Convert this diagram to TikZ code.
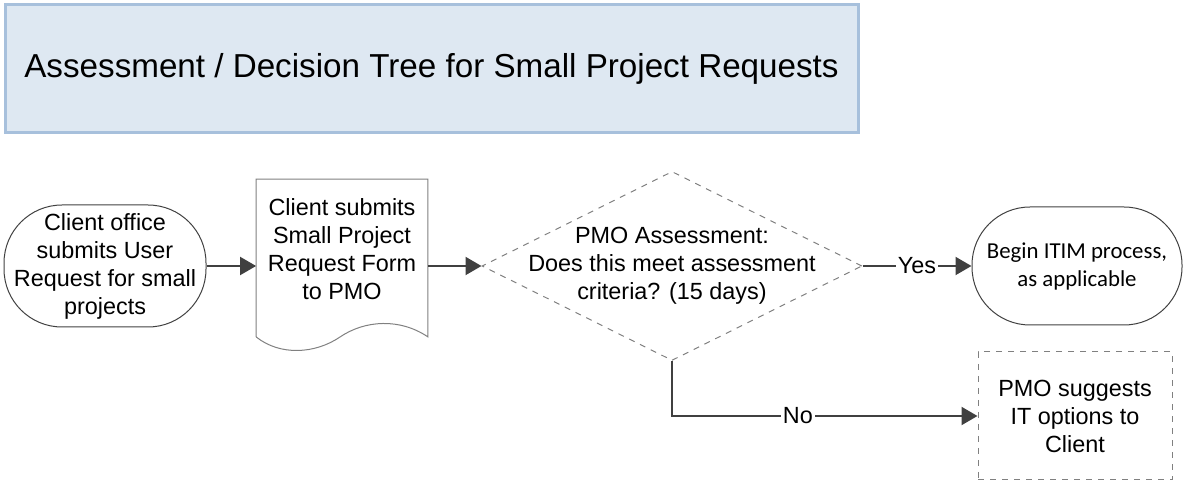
\documentclass[tikz,border=0pt]{standalone}
\usepackage{fontspec}
\setmainfont{Liberation Sans}
\newfontfamily\calibrifont{Carlito}
\usepackage{tikz}
\usetikzlibrary{shapes.geometric,arrows.meta}
\definecolor{titlefill}{HTML}{DEE8F2}
\definecolor{titleline}{HTML}{A7C0DC}
\definecolor{linegray}{HTML}{404040}
\definecolor{dashgray}{HTML}{808080}
\tikzstyle{titlebox} = [draw=titleline, fill=titlefill, line width=1.5pt,
    rectangle, minimum width=426.5pt, minimum height=64pt,
    font=\fontsize{16.6}{20}\selectfont]
\tikzstyle{terminal} = [draw=linegray, line width=0.5pt, rectangle,
    rounded corners=29pt, align=center, inner sep=0pt]
\tikzstyle{decision} = [draw=dashgray, dashed, line width=0.5pt, diamond,
    minimum width=190pt, minimum height=94.5pt, inner sep=0pt]
\tikzstyle{process} = [draw=dashgray, dashed, line width=0.5pt, rectangle,
    minimum width=97pt, minimum height=64pt, align=center]
\tikzstyle{txt} = [align=center, font=\fontsize{11.7}{14}\selectfont]
\tikzstyle{arr} = [draw=linegray, line width=1pt,
    -{Triangle[length=8pt,width=9pt]}]
\tikzstyle{lbl} = [fill=white, inner sep=1pt, font=\fontsize{11.7}{14}\selectfont]

\begin{document}
\begin{tikzpicture}[x=0.5pt, y=-0.5pt]
\useasboundingbox (0,0) rectangle (1188,485);
% title
\node[titlebox] (title) at (431.5,69) {Assessment / Decision Tree for Small Project Requests};
% flow
\node[terminal, txt, minimum width=101pt, minimum height=61pt] (start) at (105,266)
    {Client office\\submits User\\Request for small\\projects};
\node[minimum width=85.5pt, minimum height=78.5pt, inner sep=0pt] (form) at (342,258) {};
\draw[draw=dashgray, line width=0.5pt] (form.south west) -- (form.north west) -- (form.north east)
    -- (form.south east) .. controls (400,318) and (365,320) .. (340,337)
    .. controls (315,354) and (280,356) .. (form.south west);
\node[txt] (formtext) at (342,249) {Client submits\\Small Project\\Request Form\\to PMO};
\node[decision] (decide) at (672,266) {};
\node[txt] (decidetext) at (672,266) {PMO Assessment:\\Does this meet assessment\\criteria? (15 days)};
\node[terminal, minimum width=105pt, minimum height=59pt,
    font=\calibrifont\fontsize{11.4}{14}\selectfont] (itim) at (1077,266)
    {Begin ITIM process,\\as applicable};
\node[process, txt] (suggest) at (1075,416) {PMO suggests\\IT options to\\Client};
% connectors
\draw[arr] (start.east) -- (start.east -| form.west);
\draw[arr] (form.east |- decide.west) -- (decide.west);
\draw[arr] (decide.east) -- node[lbl] {Yes} (itim.west);
\draw[arr] (decide.south) |- node[lbl, pos=0.706] {No} (suggest.west);
\end{tikzpicture}
\end{document}
